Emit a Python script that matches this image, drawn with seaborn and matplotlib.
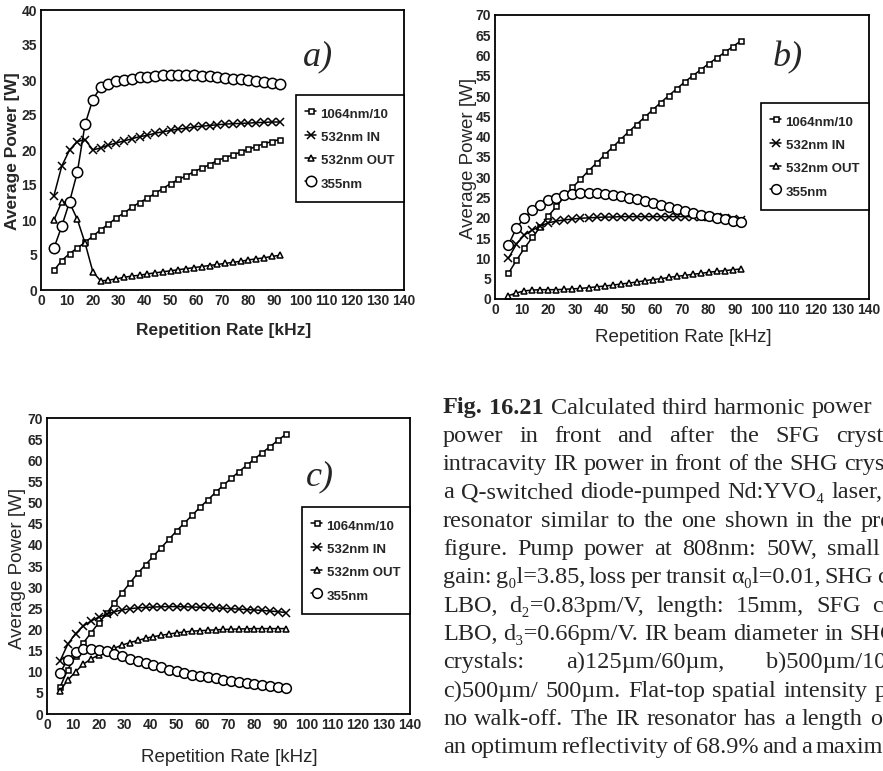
import matplotlib
matplotlib.use("Agg")
import matplotlib.pyplot as plt
import seaborn as sns

# ---------------- data ----------------
rate_khz = [5, 8, 11, 14, 17, 20, 23, 26, 29, 32, 35, 38, 41, 44, 47,
            50, 53, 56, 59, 62, 65, 68, 71, 74, 77, 80, 83, 86, 89, 92]
series_labels = ["1064nm/10", "532nm IN", "532nm OUT", "355nm"]

# panel a)
a_1064 = [2.8, 4.2, 5.2, 6.0, 6.8, 7.7, 8.6, 9.4, 10.3, 11.0, 11.8, 12.5, 13.1, 13.8, 14.5,
          15.2, 15.8, 16.3, 16.9, 17.4, 17.9, 18.5, 18.9, 19.3, 19.7, 20.1, 20.5, 20.9, 21.2, 21.5]
a_532in = [13.5, 17.7, 20.0, 21.2, 21.5, 20.0, 20.3, 20.7, 21.0, 21.3, 21.6, 21.9, 22.1, 22.4, 22.6,
           22.8, 23.0, 23.1, 23.3, 23.4, 23.5, 23.6, 23.7, 23.75, 23.8, 23.85, 23.9, 23.95, 24.0, 24.0]
a_532out = [10.0, 12.6, 12.5, 10.1, 6.7, 2.6, 1.3, 1.4, 1.6, 1.8, 2.0, 2.1, 2.3, 2.45, 2.6,
            2.75, 2.9, 3.05, 3.2, 3.35, 3.5, 3.65, 3.8, 3.95, 4.1, 4.3, 4.45, 4.6, 4.8, 4.95]
a_355 = [6.0, 9.1, 12.6, 16.8, 23.7, 27.2, 29.0, 29.5, 29.8, 30.0, 30.2, 30.4, 30.5, 30.6, 30.7,
         30.7, 30.7, 30.7, 30.7, 30.6, 30.6, 30.5, 30.3, 30.2, 30.1, 30.0, 29.8, 29.7, 29.6, 29.5]

# panel b)
b_1064 = [6.3, 9.5, 12.5, 15.2, 17.8, 20.5, 22.8, 25.3, 27.5, 29.5, 31.6, 33.5, 35.5, 37.4, 39.3,
          41.2, 43.0, 44.8, 46.6, 48.4, 50.1, 51.8, 53.5, 55.0, 56.5, 58.0, 59.4, 60.8, 62.2, 63.6]
b_532in = [10.0, 13.5, 15.8, 17.0, 18.0, 18.8, 19.2, 19.5, 19.7, 19.9, 20.0, 20.1, 20.2, 20.2, 20.3,
           20.3, 20.3, 20.3, 20.3, 20.3, 20.3, 20.3, 20.3, 20.3, 20.3, 20.3, 20.2, 20.0, 19.8, 19.5]
b_532out = [0.8, 1.5, 2.0, 2.2, 2.3, 2.3, 2.3, 2.4, 2.5, 2.6, 2.8, 3.0, 3.2, 3.4, 3.7,
            3.9, 4.2, 4.5, 4.8, 5.0, 5.3, 5.6, 5.8, 6.1, 6.3, 6.6, 6.8, 7.0, 7.2, 7.4]
b_355 = [13.3, 17.5, 20.0, 22.0, 23.2, 24.3, 25.0, 25.6, 25.9, 26.1, 26.2, 26.1, 25.9, 25.7, 25.3,
         25.0, 24.6, 24.1, 23.7, 23.2, 22.7, 22.2, 21.7, 21.3, 20.8, 20.4, 20.0, 19.6, 19.3, 19.0]

# panel c)
c_1064 = [6.3, 10.5, 13.8, 16.8, 19.2, 21.6, 23.8, 26.3, 28.7, 31.0, 33.3, 35.3, 37.3, 39.3, 41.3,
          43.3, 45.2, 47.0, 48.9, 50.6, 52.4, 54.1, 55.7, 57.3, 58.8, 60.3, 61.8, 63.2, 64.7, 66.1]
c_532in = [12.5, 16.5, 19.0, 20.8, 22.0, 22.9, 23.6, 24.2, 24.6, 24.9, 25.1, 25.2, 25.3, 25.35, 25.4,
           25.4, 25.35, 25.3, 25.25, 25.2, 25.1, 25.0, 24.9, 24.8, 24.7, 24.6, 24.5, 24.35, 24.2, 24.0]
c_532out = [5.5, 8.0, 10.0, 11.8, 13.0, 14.0, 14.8, 15.6, 16.3, 16.9, 17.4, 17.9, 18.3, 18.6, 18.9,
            19.2, 19.4, 19.6, 19.7, 19.8, 19.9, 20.0, 20.05, 20.1, 20.15, 20.2, 20.2, 20.2, 20.2, 20.2]
c_355 = [9.8, 12.8, 14.6, 15.3, 15.4, 15.1, 14.8, 14.3, 13.7, 13.1, 12.5, 12.0, 11.5, 11.0, 10.5,
         10.1, 9.7, 9.3, 9.0, 8.7, 8.4, 8.1, 7.8, 7.5, 7.3, 7.0, 6.8, 6.6, 6.4, 6.2]

x_ticks = [0, 10, 20, 30, 40, 50, 60, 70, 80, 90, 100, 110, 120, 130, 140]

# caption lines (the scan is cut at the right page edge)
caption_lines = [
    "Fig. 16.21 Calculated third harmonic power",
    "power in front and after the SFG crystal",
    "intracavity IR power in front of the SHG crystal",
    "a Q-switched diode-pumped Nd:YVO\u2084 laser,",
    "resonator similar to the one shown in the previous",
    "figure. Pump power at 808nm: 50W, small",
    "gain: g\u2080l=3.85, loss per transit \u03b1\u2080l=0.01, SHG crystal",
    "LBO, d\u2082=0.83pm/V, length: 15mm, SFG crystal",
    "LBO, d\u2083=0.66pm/V. IR beam diameter in SHG",
    "crystals: a)125\u00b5m/60\u00b5m, b)500\u00b5m/100\u00b5m",
    "c)500\u00b5m/ 500\u00b5m. Flat-top spatial intensity profile",
    "no walk-off. The IR resonator has a length of",
    "an optimum reflectivity of 68.9% and a maximum",
]
# justified word gaps (px) per caption line
caption_gaps = [6.5, 16, 6, 7, 8, 10, 4, 12, 6, 42, 7.4, 7.1, 3.7]

# ---------------- figure ----------------
sns.set_style("white")
plt.rcParams["font.family"] = ["Liberation Sans", "DejaVu Sans"]

W, H = 883, 771
fig = plt.figure(figsize=(W / 100, H / 100), dpi=100)


def px_axes(left, top, right, bottom):
    return fig.add_axes([left / W, 1 - bottom / H, (right - left) / W, (bottom - top) / H])


def fx(x):
    return x / W


def fy(y):
    return 1 - y / H


markers = ["s", "x", "^", "o"]


def draw_panel(ax, ys, ymax, leg_top, msizes):
    handles = []
    for lab, y, mk, ms in zip(series_labels, ys, markers, msizes):
        sns.lineplot(x=rate_khz, y=y, ax=ax, color="black", lw=1.1, marker=mk, ms=ms,
                     mfc="white", mec="black", mew=1.1, legend=False)
        ln = ax.lines[-1]
        ln.set_label(lab)
        handles.append(ln)
    ax.set_xlim(0, 140)
    ax.set_ylim(0, ymax)
    ax.set_xticks(x_ticks)
    ax.set_yticks(list(range(0, ymax + 1, 5)))
    ax.tick_params(direction="in", length=3, width=1.0, pad=3, labelsize=10,
                   top=False, right=False)
    for t in ax.get_xticklabels() + ax.get_yticklabels():
        t.set_fontweight("bold")
    for s in ax.spines.values():
        s.set_linewidth(1.3)
        s.set_color("black")
    ax.set_xlabel("")
    ax.set_ylabel("")
    leg = ax.legend(handles=handles, labels=series_labels, loc="upper right",
                    bbox_to_anchor=(1.0, leg_top), borderaxespad=0.0,
                    frameon=True, fancybox=False, edgecolor="black",
                    handlelength=0.8, handleheight=1.6, handletextpad=0.35,
                    borderpad=0.75, labelspacing=0.48,
                    prop={"weight": "bold", "size": 9.5})
    leg.get_frame().set_linewidth(1.2)
    leg.get_frame().set_alpha(1.0)
    return ax


ax_a = px_axes(41, 10, 404, 290)
draw_panel(ax_a, [a_1064, a_532in, a_532out, a_355], 40, 0.696, [3.6, 5.5, 5.0, 7.5])
ax_b = px_axes(495, 15, 869, 299)
draw_panel(ax_b, [b_1064, b_532in, b_532out, b_355], 70, 0.690, [3.6, 5.5, 4.8, 7.0])
ax_c = px_axes(47, 418, 410, 714)
draw_panel(ax_c, [c_1064, c_532in, c_532out, c_355], 70, 0.699, [3.6, 5.5, 4.8, 7.0])

# axis labels
fig.text(fx(13), fy(151), "Average Power [W]", rotation=90, ha="center", va="center",
         fontsize=12.5, fontweight="bold")
fig.text(fx(224), fy(330), "Repetition Rate [kHz]", ha="center", va="center",
         fontsize=12.5, fontweight="bold")
fig.text(fx(468), fy(158), "Average Power [W]", rotation=90, ha="center", va="center",
         fontsize=13.5)
fig.text(fx(683), fy(338), "Repetition Rate [kHz]", ha="center", va="center",
         fontsize=13.5)
fig.text(fx(18), fy(568), "Average Power [W]", rotation=90, ha="center", va="center",
         fontsize=13.5)
fig.text(fx(229), fy(758), "Repetition Rate [kHz]", ha="center", va="center",
         fontsize=13.5)

# panel tags
serif = ["Liberation Serif", "DejaVu Serif"]
for x, y, s in [(318, 57, "a)"), (788, 58, "b)"), (320, 477, "c)")]:
    fig.text(fx(x), fy(y), s, ha="center", va="center", fontsize=26,
             style="italic", family=serif)

# caption, placed word by word to imitate the justified print
renderer = fig.canvas.get_renderer()
x0 = 443
base0 = 413.5
step = 28.3
for i, (line, gap) in enumerate(zip(caption_lines, caption_gaps)):
    words = line.split(" ")
    xpos = x0
    for j, w in enumerate(words):
        bold = (i == 0 and j < 2)
        t = fig.text(fx(xpos), fy(base0 + i * step), w, ha="left", va="baseline",
                     fontsize=17.5, family=serif,
                     fontweight="bold" if bold else "normal")
        xpos += t.get_window_extent(renderer).width + gap

fig.savefig("out.png", dpi=100)
